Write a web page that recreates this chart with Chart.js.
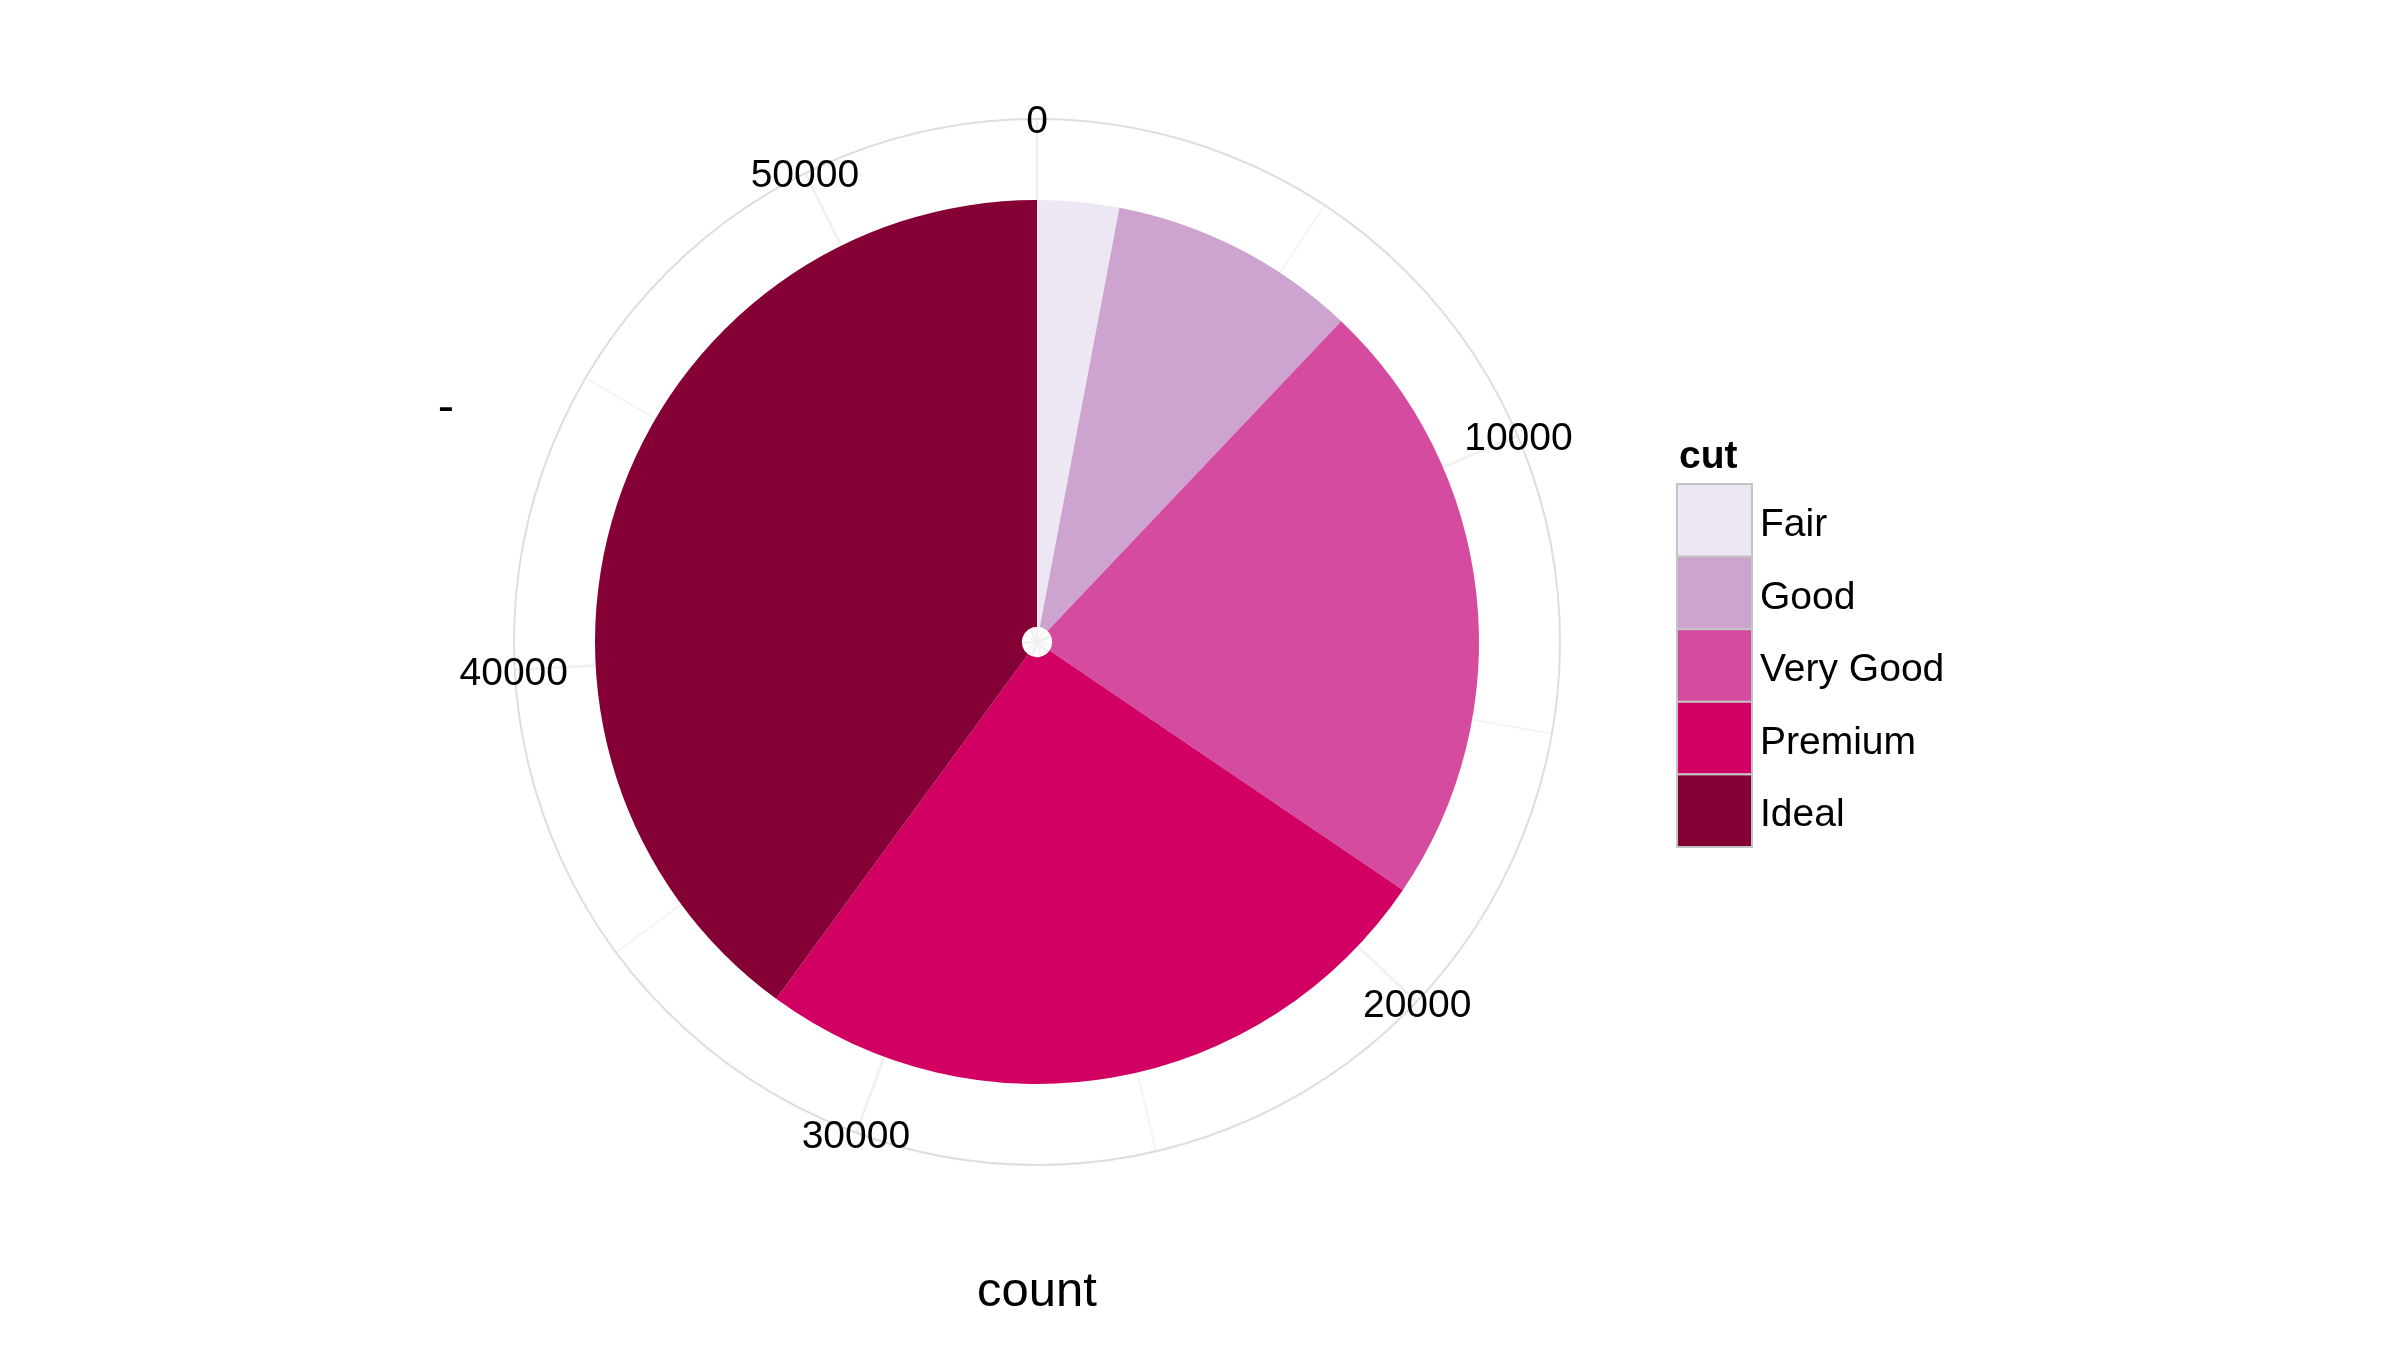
<!DOCTYPE html>
<html>
<head>
<meta charset="utf-8">
<script src="https://cdn.jsdelivr.net/npm/chart.js@4/dist/chart.umd.min.js"></script>
<style>
html,body{margin:0;padding:0;background:#fff;}
#wrap{width:2400px;height:1350px;position:relative;}
</style>
</head>
<body>
<div id="wrap"><canvas id="c" width="2400" height="1350"></canvas></div>
<script>
// ---- data ----
const categories = ["Fair", "Good", "Very Good", "Premium", "Ideal"];
const counts = [1610, 4906, 12082, 13791, 21551];
const fillColors = ["#ECE7F2", "#CDA4CF", "#D54B9F", "#D10062", "#840035"];
const tickLabels = [0, 10000, 20000, 30000, 40000, 50000];
const gridValues = [0, 5000, 10000, 15000, 20000, 25000, 30000, 35000, 40000, 45000, 50000];
const legendTitle = "cut";
const xTitle = "count";
const yTitle = "-";

const FONT = "'Liberation Sans', Arial, sans-serif";
const OUTER_R = 523;

function geom(chart) {
  const meta = chart.getDatasetMeta(0);
  const arc = meta.data[0];
  const total = counts.reduce((a, b) => a + b, 0);
  return { cx: arc.x, cy: arc.y, total };
}
function angleOf(v, total) { return -Math.PI / 2 + v / total * 2 * Math.PI; }

const polarGrid = {
  id: 'polarGrid',
  beforeDatasetsDraw(chart) {
    const { ctx } = chart;
    const { cx, cy, total } = geom(chart);
    ctx.save();
    gridValues.forEach(v => {
      const a = angleOf(v, total);
      const major = tickLabels.includes(v);
      ctx.strokeStyle = major ? '#f0f0f0' : '#f4f4f4';
      ctx.lineWidth = major ? 2.5 : 2;
      ctx.beginPath();
      ctx.moveTo(cx, cy);
      ctx.lineTo(cx + OUTER_R * Math.cos(a), cy + OUTER_R * Math.sin(a));
      ctx.stroke();
    });
    ctx.strokeStyle = '#dedede';
    ctx.lineWidth = 2;
    ctx.beginPath();
    ctx.arc(cx, cy, OUTER_R, 0, Math.PI * 2);
    ctx.stroke();
    ctx.restore();
  },
  afterDraw(chart) {
    const { ctx } = chart;
    const { cx, cy, total } = geom(chart);
    ctx.save();
    ctx.fillStyle = '#000';
    ctx.font = `39px ${FONT}`;
    ctx.textAlign = 'center';
    ctx.textBaseline = 'middle';
    tickLabels.forEach(v => {
      const a = angleOf(v, total);
      ctx.fillText(String(v), cx + (OUTER_R + 1) * Math.cos(a), cy + (OUTER_R + 1) * Math.sin(a) + 4);
    });
    // axis titles
    ctx.font = `49px ${FONT}`;
    ctx.textBaseline = 'alphabetic';
    ctx.fillText(xTitle, cx, 1306);
    ctx.fillText(yTitle, 446, 422);
    // legend
    const lx = 1677, ly = 484, kw = 75, kh = 72.6;
    ctx.textAlign = 'left';
    ctx.font = `bold 39px ${FONT}`;
    ctx.fillText(legendTitle, 1679, 468);
    ctx.font = `39px ${FONT}`;
    categories.forEach((c, i) => {
      const y = ly + i * kh;
      ctx.fillStyle = fillColors[i];
      ctx.fillRect(lx, y, kw, kh);
      ctx.strokeStyle = '#c4c4c4';
      ctx.lineWidth = 2;
      ctx.strokeRect(lx, y, kw, kh);
      ctx.fillStyle = '#000';
      ctx.textBaseline = 'middle';
      ctx.fillText(c, 1760, y + kh / 2 + 5);
    });
    ctx.restore();
  }
};

new Chart(document.getElementById('c'), {
  type: 'doughnut',
  data: {
    labels: categories,
    datasets: [{
      data: counts,
      backgroundColor: fillColors,
      borderWidth: 0,
      hoverOffset: 0
    }]
  },
  options: {
    responsive: false,
    animation: false,
    rotation: 0,
    radius: 442,
    cutout: 22,
    layout: { padding: { left: 0, top: 0, right: 326, bottom: 66 } },
    plugins: { legend: { display: false }, tooltip: { enabled: false } },
    events: []
  },
  plugins: [polarGrid]
});
</script>
</body>
</html>
